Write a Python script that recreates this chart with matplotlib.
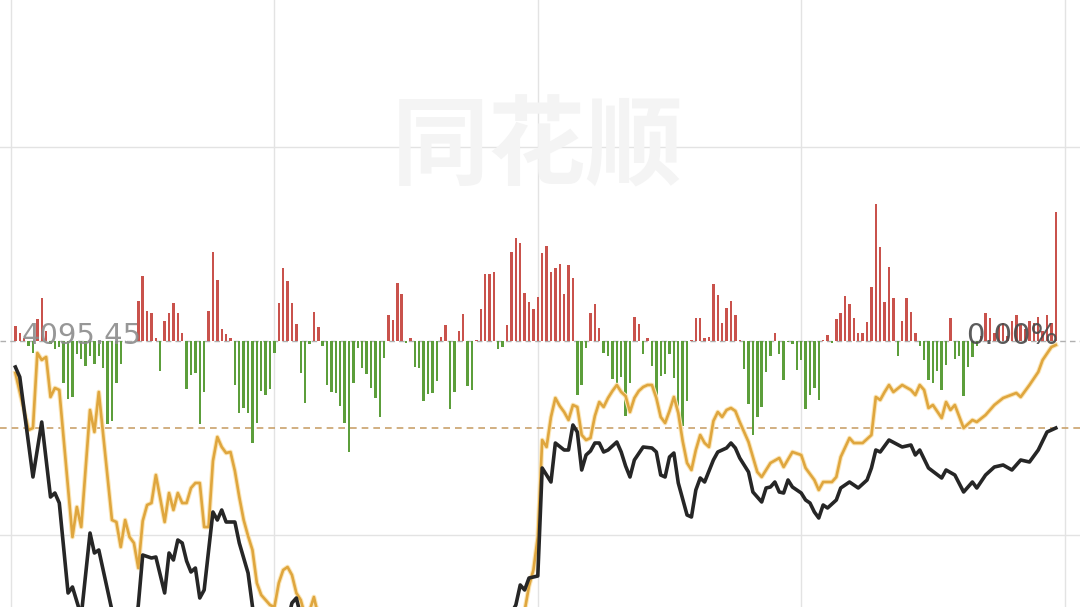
import matplotlib
matplotlib.use("Agg")
import matplotlib.pyplot as plt

# ---------------- data (minute index from 9:30, 0..240) ----------------
prev_close = 4095.45          # label at the zero line
grid_step = 19.4              # index points between horizontal grid lines

# black line: index change vs previous close (points)
black_min = [1, 2, 5, 7, 9, 10, 11, 13, 14, 16, 18, 19, 20, 22, 24, 26, 28, 29, 30, 32, 33, 35, 36, 37, 38, 39,
             40, 41, 42, 43, 44, 46, 47, 48, 49, 51, 52, 54, 55, 56, 57, 58, 59, 60, 61, 62, 63, 64, 65, 66, 67,
             70, 75, 80, 85, 90, 95, 100, 105, 110, 113, 115, 116, 117, 118, 120, 121, 123, 124, 126, 127, 128,
             129, 130, 131, 132, 133, 134, 135, 136, 138, 139, 140, 141, 142, 144, 146, 147, 148, 149, 150, 151,
             152, 154, 155, 156, 157, 158, 160, 161, 163, 164, 165, 166, 168, 169, 171, 172, 173, 174, 175, 176,
             177, 178, 180, 181, 182, 183, 184, 185, 186, 188, 189, 191, 193, 195, 196, 197, 198, 200, 203, 205,
             206, 207, 209, 212, 213, 215, 217, 219, 220, 222, 224, 226, 228, 230, 232, 234, 236, 238]
black_val = [-2.6, -3.6, -13.6, -8.1, -15.6, -15.2, -16.2, -25.2, -24.6, -27.5, -19.2, -21.2, -20.9, -24.9, -29.0,
             -31.0, -29.5, -26.4, -21.4, -21.7, -21.6, -25.2, -21.2, -21.9, -19.9, -20.2, -22.0, -23.1, -22.7,
             -25.7, -24.9, -17.1, -17.9, -16.9, -18.1, -18.1, -20.2, -23.2, -26.6, -28.5, -30.0, -32.0, -33.0,
             -33.0, -32.0, -30.0, -28.0, -26.2, -25.7, -27.5, -30.0, -34.0, -36.0, -38.0, -36.0, -39.0, -41.0,
             -40.0, -37.0, -32.0, -28.0, -26.4, -24.4, -24.9, -23.7, -23.5, -12.7, -14.1, -10.2, -10.9, -10.9,
             -8.4, -9.1, -12.9, -11.4, -11.0, -10.2, -10.2, -11.1, -10.9, -10.1, -11.1, -12.5, -13.6, -11.9,
             -10.6, -10.7, -11.1, -13.4, -13.6, -11.6, -11.2, -14.2, -17.4, -17.6, -14.9, -13.7, -14.1, -11.9,
             -11.1, -10.7, -10.2, -10.7, -11.7, -13.1, -15.1, -16.1, -14.7, -14.6, -14.1, -15.1, -15.2, -13.9,
             -14.6, -15.2, -15.9, -16.2, -17.1, -17.7, -16.4, -16.7, -15.9, -14.7, -14.1, -14.7, -13.9, -12.7,
             -10.9, -11.1, -9.9, -10.6, -10.4, -11.4, -10.9, -12.7, -13.7, -12.9, -13.4, -15.1, -14.1, -14.7,
             -13.4, -12.6, -12.4, -12.9, -11.9, -12.1, -10.9, -9.1, -8.7]

# gold line: second index change, same scale
gold_min = [1, 4, 5, 6, 7, 8, 9, 10, 11, 14, 15, 16, 18, 19, 20, 23, 24, 25, 26, 27, 28, 29, 30, 31, 32, 33, 35,
            36, 37, 38, 39, 40, 41, 42, 43, 44, 45, 46, 47, 48, 49, 50, 51, 52, 53, 54, 55, 56, 57, 58, 59, 60,
            61, 62, 63, 64, 65, 66, 67, 68, 69, 70, 75, 80, 85, 90, 95, 100, 105, 110, 115, 117, 118, 119, 120,
            121, 122, 123, 124, 125, 126, 127, 128, 129, 130, 131, 132, 133, 134, 135, 136, 137, 138, 139, 140,
            141, 142, 143, 144, 145, 146, 147, 148, 149, 150, 151, 152, 153, 154, 155, 156, 157, 158, 159, 160,
            161, 162, 163, 164, 165, 166, 168, 170, 171, 173, 175, 176, 178, 180, 181, 183, 184, 185, 187, 188,
            189, 191, 192, 194, 196, 197, 198, 199, 200, 201, 203, 205, 206, 207, 208, 209, 210, 212, 213, 214,
            215, 217, 219, 220, 222, 224, 226, 229, 230, 232, 234, 235, 237, 238]
gold_val = [-3.2, -8.9, -8.7, -1.2, -1.9, -1.6, -5.6, -4.7, -4.9, -19.6, -16.6, -18.6, -6.9, -9.1, -5.1, -17.9,
            -18.1, -20.6, -17.9, -19.6, -20.2, -22.7, -18.0, -16.4, -16.2, -13.4, -18.1, -15.2, -16.9, -15.2,
            -16.2, -16.2, -14.7, -14.2, -14.2, -18.6, -18.6, -12.0, -9.6, -10.6, -11.2, -11.1, -13.0, -15.6,
            -17.9, -19.5, -20.9, -24.2, -25.4, -25.9, -26.4, -26.6, -24.2, -22.9, -22.6, -23.4, -25.2, -25.9,
            -27.5, -27.0, -25.6, -27.5, -30.0, -32.0, -31.0, -34.0, -36.0, -35.0, -32.0, -29.0, -27.5, -27.0,
            -24.5, -22.9, -19.6, -9.9, -10.6, -7.6, -5.7, -6.5, -7.1, -7.9, -6.4, -6.6, -9.4, -9.9, -9.7, -7.5,
            -6.1, -6.6, -5.7, -5.0, -4.4, -5.1, -5.5, -7.1, -5.7, -5.0, -4.6, -4.4, -4.4, -5.7, -7.6, -8.2,
            -7.0, -5.6, -7.2, -10.0, -12.2, -12.9, -10.9, -9.4, -10.2, -10.6, -8.0, -7.1, -7.6, -6.9, -6.7,
            -7.0, -8.1, -10.1, -13.1, -13.6, -12.2, -11.7, -12.6, -11.1, -11.4, -12.7, -13.9, -14.9, -14.1,
            -14.1, -13.6, -11.6, -9.7, -10.2, -10.2, -9.4, -5.6, -5.9, -5.1, -4.4, -5.1, -4.4, -4.9, -5.4,
            -4.4, -4.9, -6.7, -6.4, -7.7, -6.1, -6.9, -6.4, -8.7, -7.9, -8.1, -7.4, -6.4, -5.7, -5.2, -5.6,
            -4.4, -3.1, -1.9, -0.6, -0.4]

# per-minute flow bars (positive = red, negative = green), minutes 1..238
bar_min = list(range(1, 239))
bar_val = [1.5, 0.8, 0.3, -0.5, -1.2, 2.2, 4.3, 1.0, -0.3, -0.8,
           -0.6, -4.2, -5.8, -5.6, -1.3, -1.8, -2.5, -1.5, -2.3, -1.5,
           -2.7, -8.3, -8.0, -4.2, -2.3, 0.0, 0.0, 0.0, 4.0, 6.5,
           3.0, 2.8, 0.3, -3.0, 2.0, 2.8, 3.8, 2.8, 0.8, -4.8,
           -3.4, -3.2, -8.3, -5.1, 3.0, 8.9, 6.1, 1.2, 0.7, 0.3,
           -4.4, -7.2, -6.7, -7.2, -10.2, -8.2, -5.0, -5.4, -4.8, -1.2,
           3.8, 7.3, 6.0, 3.8, 1.7, -3.2, -6.2, -0.3, 2.9, 1.4,
           -0.5, -4.4, -5.1, -5.2, -6.5, -8.2, -11.1, -4.2, -0.7, -2.7,
           -3.3, -4.7, -5.7, -7.6, -1.7, 2.6, 2.1, 5.8, 4.7, -0.2,
           0.3, -2.6, -2.7, -6.0, -5.3, -5.2, -4.0, 0.4, 1.6, -6.8,
           -5.1, 1.0, 2.7, -4.5, -4.9, 0.1, 3.2, 6.7, 6.7, 6.9,
           -0.8, -0.6, 1.6, 8.9, 10.3, 9.8, 4.8, 3.9, 3.2, 4.4,
           8.8, 9.5, 6.9, 7.3, 7.7, 4.7, 7.6, 6.3, -5.4, -4.4,
           -0.7, 2.8, 3.7, 1.3, -1.2, -1.5, -3.8, -4.5, -3.6, -7.5,
           -4.2, 2.4, 1.7, -1.3, 0.3, -2.5, -6.0, -3.5, -3.3, -1.3,
           -3.7, -7.2, -8.5, -6.0, 0.1, 2.3, 2.3, 0.3, 0.4, 5.7,
           4.6, 1.8, 3.3, 4.0, 2.6, 0.1, -2.8, -6.3, -9.4, -7.6,
           -6.6, -3.1, -1.5, 0.8, -1.3, -3.9, -0.1, -0.3, -2.9, -1.9,
           -6.8, -5.4, -4.7, -5.9, 0.1, 0.6, -0.2, 2.2, 2.8, 4.5,
           3.7, 2.3, 0.8, 0.8, 1.9, 5.4, 13.7, 9.4, 3.9, 7.4,
           4.3, -1.5, 2.0, 4.3, 2.9, 0.8, -0.5, -1.9, -3.9, -4.2,
           -3.0, -4.9, -2.4, 2.3, -1.8, -1.5, -5.5, -2.6, -1.6, -0.5,
           0.5, 2.8, 2.3, 0.8, 1.5, 1.8, 0.5, 2.0, 2.6, 1.6,
           1.2, 2.0, 1.8, 2.4, 1.0, 2.6, 1.8, 12.9]

pct_label = "0.00%"
watermark = "同花顺"

# ---------------- drawing ----------------
plt.rcParams['font.family'] = ['DejaVu Sans', 'Noto Sans CJK SC']
fig = plt.figure(figsize=(10.8, 6.07), dpi=100)
ax = fig.add_axes([0, 0, 1, 1])
ax.set_xlim(-2.505, 243.51)
ax.set_ylim(-26.6, 34.1)
for s in ax.spines.values():
    s.set_visible(False)
ax.set_xticks([])
ax.set_yticks([])

grid_c = '#e3e3e3'
for xm in [0, 60, 120, 180, 240]:
    ax.axvline(xm, color=grid_c, lw=1.0, zorder=0)
for k in [-1, 1]:
    ax.axhline(k * grid_step, color=grid_c, lw=1.0, zorder=0)

ax.text(120, grid_step - 0.2, watermark, fontsize=70, fontweight='bold',
        family=['Noto Sans CJK SC'], color='#f4f4f4', ha='center', va='center', zorder=0.5)

# zero (previous close) line
ax.axhline(0, color='#b0b0b0', lw=1.0, ls=(0, (4, 3)), zorder=1)

colors = ['#c9524c' if v >= 0 else '#5c9e3b' for v in bar_val]
ax.bar(bar_min, bar_val, width=0.55, color=colors, zorder=2, linewidth=0)

# latest price line
ax.axhline(black_val[-1], color='#c9a26c', lw=1.2, ls=(0, (4, 3)), zorder=1)

ax.plot(gold_min, gold_val, color='#fbe6b8', lw=3.4, zorder=3, solid_joinstyle='round')
ax.plot(gold_min, gold_val, color='#dfa63e', lw=1.9, zorder=3, solid_joinstyle='round')
ax.plot(black_min, black_val, color='#262626', lw=2.6, zorder=4, solid_joinstyle='round')

ax.text(2.3, 0.5, f"{prev_close:.2f}", fontsize=21, color='#8c8c8c', alpha=0.9,
        ha='left', va='center', zorder=6)
ax.text(238.6, 0.5, pct_label, fontsize=21, color='#4a4a4a', alpha=0.9,
        ha='right', va='center', zorder=6)

fig.savefig('out.png', dpi=100)
